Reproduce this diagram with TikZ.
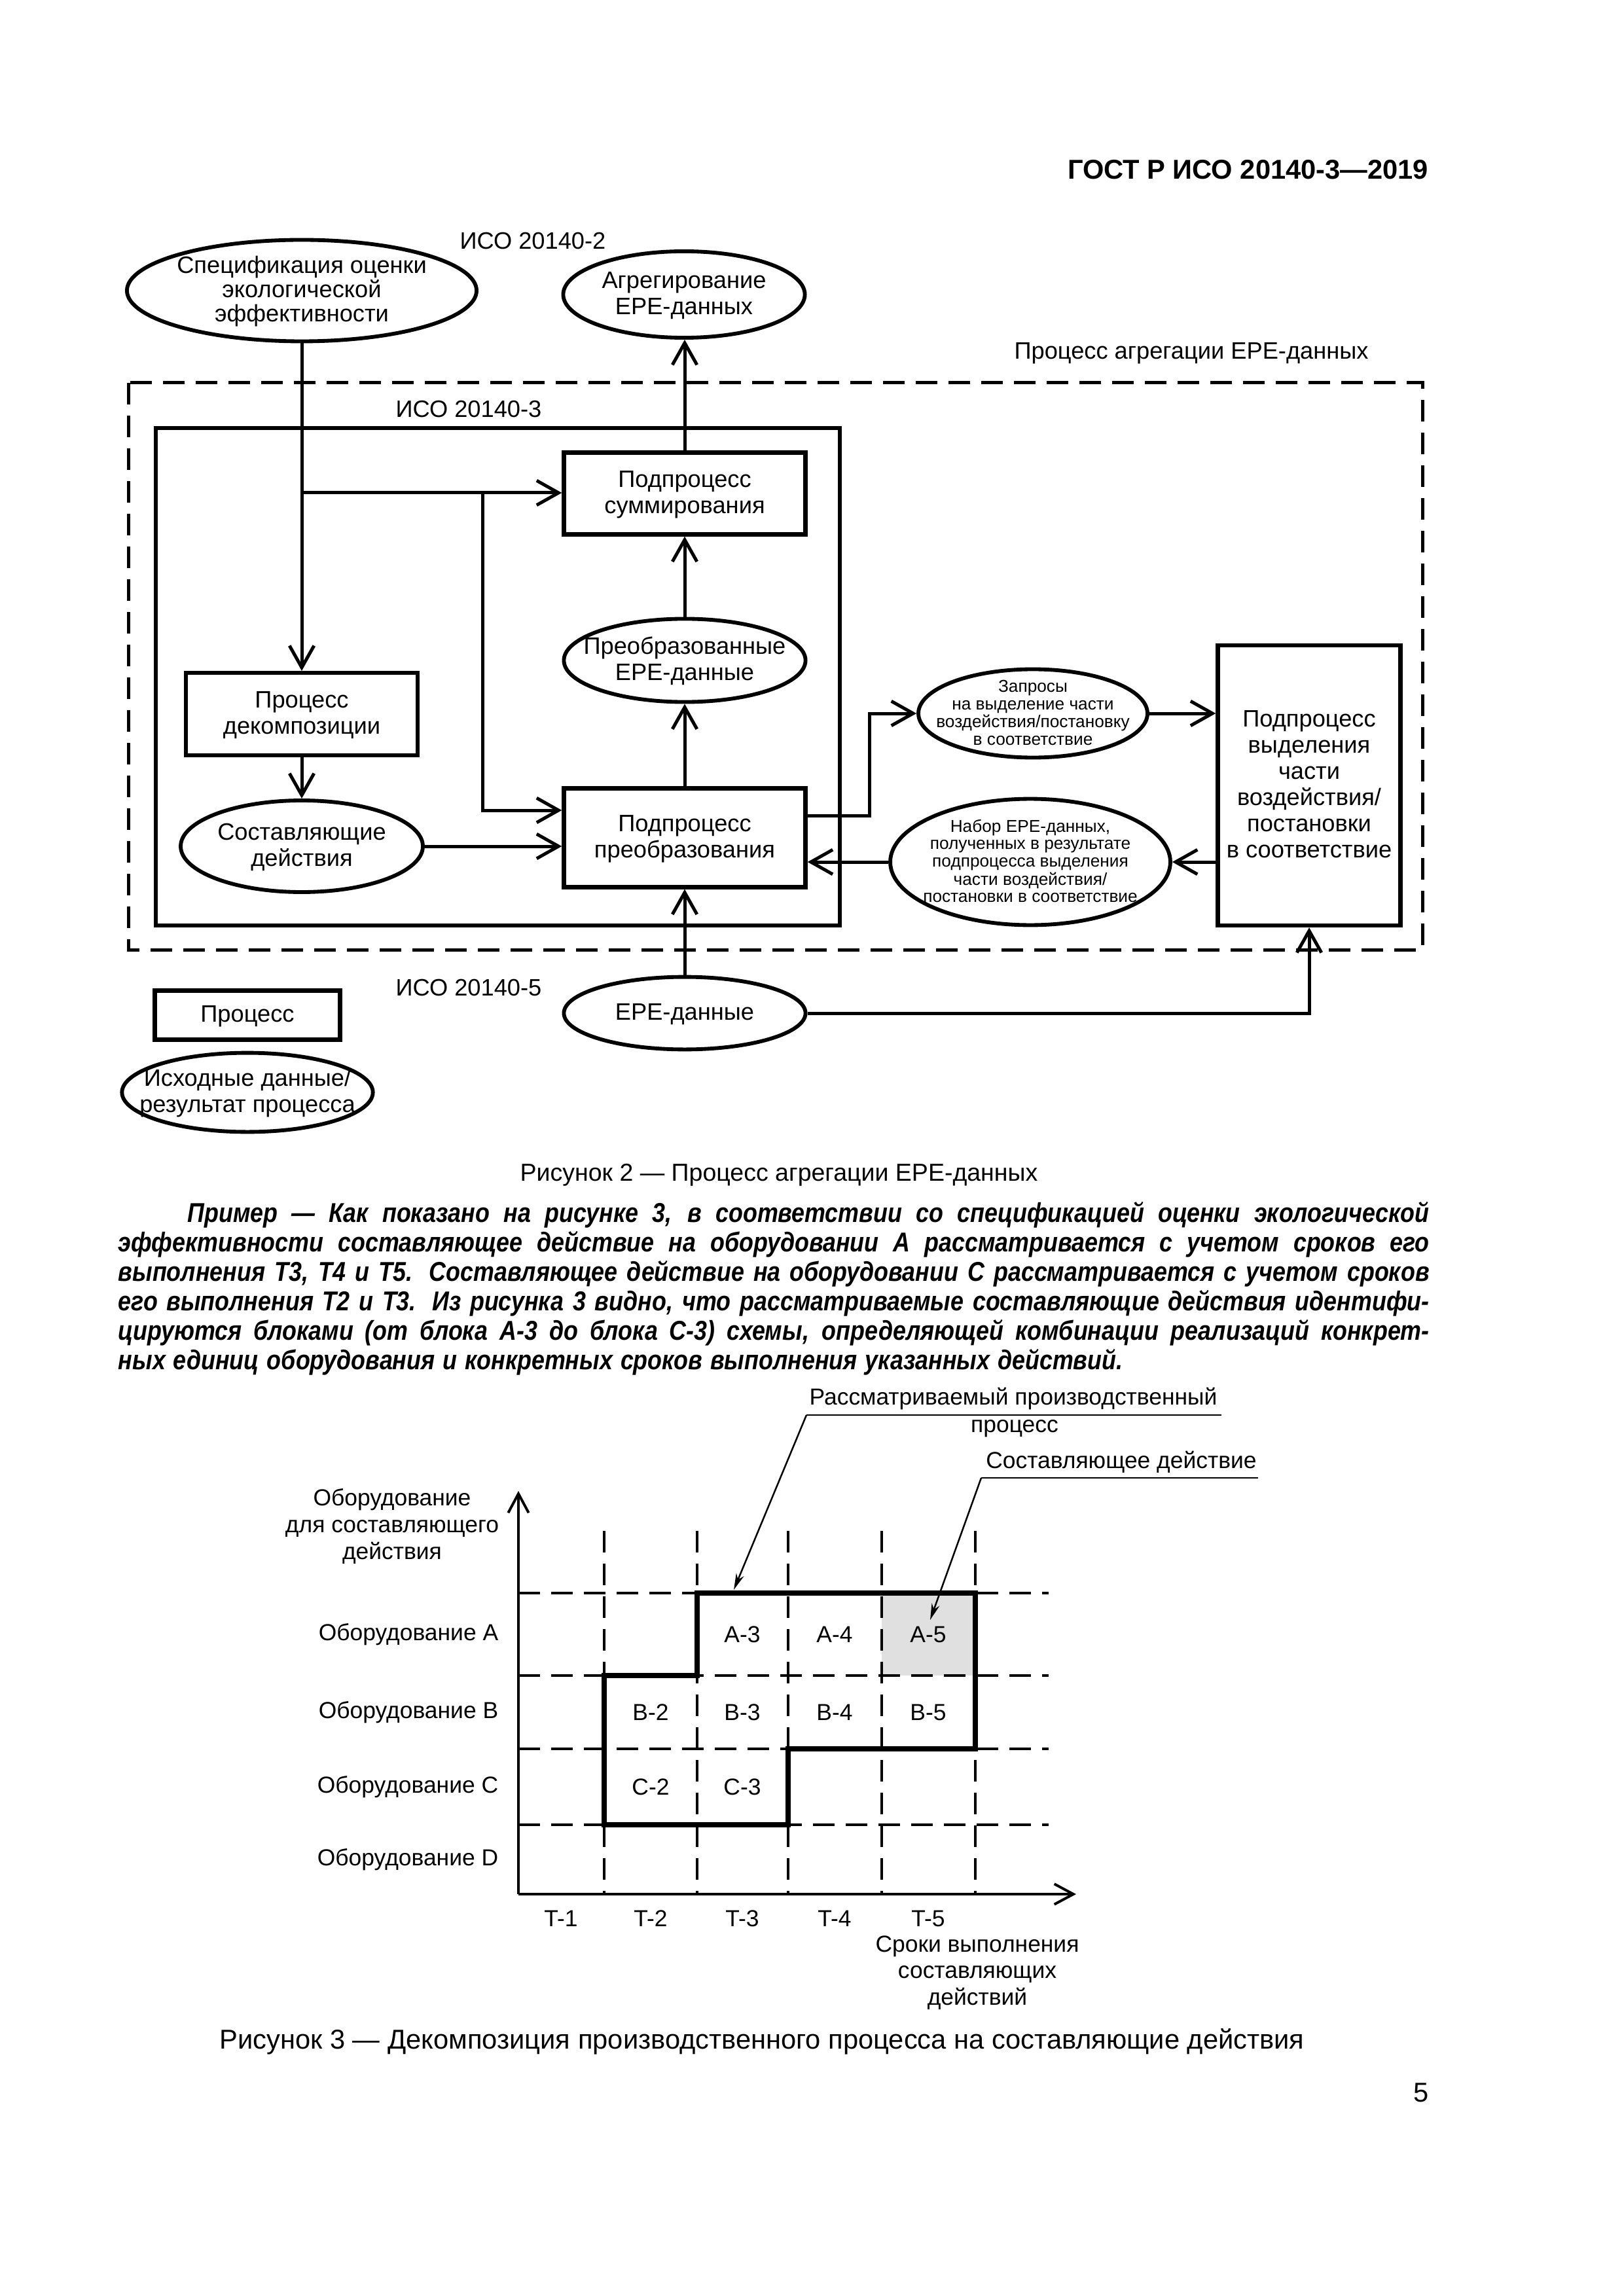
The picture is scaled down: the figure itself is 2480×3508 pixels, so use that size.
\documentclass[tikz,border=0pt]{standalone}
\usepackage{fontspec}
\usepackage{graphicx}
\setmainfont{Liberation Sans}
\usetikzlibrary{arrows.meta,shapes.geometric}
\newcommand{\ct}[1]{\smash{\makebox[0pt]{\raisebox{-0.33em}{\begin{tabular}{@{}c@{}}#1\end{tabular}}}}}
\newcommand{\pline}[1]{\scalebox{0.86}[1]{\spaceskip=0pt\xspaceskip=0pt\makebox[558.95pt][s]{#1}}}
\tikzset{
  f2/.style={font=\fontsize{8.7}{9.6}\selectfont},
  f3/.style={font=\fontsize{8.5}{9.8}\selectfont},
  fsm/.style={font=\fontsize{6.3}{6.4}\selectfont},
  pbox/.style={draw, line width=1.5pt, rectangle, inner sep=0pt, f2},
  pell/.style={draw, line width=1.4pt, ellipse, inner sep=0pt, f2},
  conn/.style={line width=1.2pt, -{Straight Barb[length=8pt,width=9pt]}},
  lab/.style={inner sep=0pt, f2},
  lab3/.style={inner sep=0pt, f3},
  grid3/.style={line width=0.85pt, dash pattern=on 8pt off 4pt},
  axis3/.style={line width=0.95pt},
  outline3/.style={line width=1.9pt, line join=miter},
  leader/.style={line width=0.6pt},
  leaderarrow/.style={line width=0.6pt, -{Stealth[length=6pt,width=3pt]}},
}
\begin{document}
\begin{tikzpicture}[x=0.24pt,y=-0.24pt]
\useasboundingbox (0,0) rectangle (2480,3508);
\fill[white] (0,0) rectangle (2480,3508);

% header
\node[anchor=east, inner sep=0pt, font=\bfseries\fontsize{10}{12}\selectfont] (hdr) at (2183,259) {ГОСТ Р ИСО 20140-3—2019};

% ---------- Figure 2 ----------
\draw[line width=1.2pt, dash pattern=on 8pt off 4pt] (196,585) rectangle (2173,1451);
\draw[line width=1.5pt] (238,654) rectangle (1283,1414);

\node[lab] (iso2) at (814,368) {ИСО 20140-2};
\node[lab] (iso3) at (716,625) {ИСО 20140-3};
\node[lab] (iso5) at (716,1509) {ИСО 20140-5};
\node[lab] (agglab) at (1820,540) {Процесс агрегации EPE-данных};

\node[pell, minimum width=128.2pt, minimum height=37.2pt, font=\fontsize{8.7}{8.6}\selectfont] (spec) at (461,444) {\ct{Спецификация оценки\\экологической\\эффективности}};
\node[pell, minimum width=88.6pt, minimum height=31.7pt] (agreg) at (1045,450) {\ct{Агрегирование\\EPE-данных}};
\node[pbox, minimum width=88.6pt, minimum height=30pt] (summ) at (1046,754) {\ct{Подпроцесс\\суммирования}};
\node[pell, minimum width=88.6pt, minimum height=30.5pt] (preobrEll) at (1046,1009) {\ct{Преобразованные\\EPE-данные}};
\node[pbox, minimum width=85pt, minimum height=30.2pt] (decomp) at (461,1091) {\ct{Процесс\\декомпозиции}};
\node[pell, minimum width=88.8pt, minimum height=33.6pt] (sostav) at (461,1293) {\ct{Составляющие\\действия}};
\node[pbox, minimum width=88.6pt, minimum height=36.2pt] (preobr) at (1046,1280) {\ct{Подпроцесс\\преобразования}};
\node[pell, minimum width=84pt, minimum height=32.4pt, fsm] (zapros) at (1578,1090) {\ct{Запросы\\на выделение части\\воздействия/постановку\\в соответствие}};
\node[pbox, minimum width=67pt, minimum height=102.7pt] (vydel) at (2000,1200) {\ct{Подпроцесс\\выделения\\части\\воздействия/\\постановки\\в соответствие}};
\node[pell, minimum width=102.7pt, minimum height=46.3pt, fsm] (nabor) at (1574,1317) {\ct{Набор EPE-данных,\\полученных в результате\\подпроцесса выделения\\части воздействия/\\постановки в соответствие}};
\node[pell, minimum width=88.6pt, minimum height=26.6pt] (epe) at (1046,1548) {\ct{EPE-данные}};

% legend
\node[pbox, minimum width=67.9pt, minimum height=18pt] (legbox) at (378,1551) {\ct{Процесс}};
\node[pell, minimum width=92pt, minimum height=29pt] (legell) at (378,1669) {\ct{Исходные данные/\\результат процесса}};

% connectors
\coordinate (j1) at (461,753);
\coordinate (j2) at (737,753);
\coordinate (p1) at (737,1238);
\coordinate (q1) at (1328,1246);
\coordinate (q2) at (1328,1090);
\draw[conn] (spec.south) -- (decomp.north);
\draw[conn] (j1) -- (j1 -| summ.west);
\draw[conn] (j2) -- (p1) -- (p1 -| preobr.west);
\draw[conn] (decomp.south) -- (sostav.north);
\draw[conn] (sostav.east) -- (sostav.east -| preobr.west);
\draw[conn] (preobr.north) -- (preobrEll.south);
\draw[conn] (preobrEll.north) -- (summ.south);
\draw[conn] (summ.north) -- (summ.north |- agreg.south);
\draw[conn] (q1 -| preobr.east) -- (q1) -- (q2) -- (zapros.west);
\draw[conn] (zapros.east) -- (zapros.east -| vydel.west);
\draw[conn] (vydel.west |- nabor.east) -- (nabor.east);
\draw[conn] (nabor.west) -- (nabor.west -| preobr.east);
\draw[conn] (epe.north) -- (epe.north |- preobr.south);
\draw[conn] (epe.east) -- (epe.east -| vydel.south) -- (vydel.south);

\node[inner sep=0pt, font=\fontsize{9}{11}\selectfont] (cap2) at (1190,1795) {Рисунок 2 — Процесс агрегации EPE-данных};

% ---------- paragraph ----------
\node[anchor=base west, inner sep=0pt, text width=480.7pt, align=left,
      font=\bfseries\itshape\fontsize{10}{10.8}\selectfont] (para) at (180,1867)
{\pline{\hspace*{29.5pt}Пример — Как показано на рисунке 3, в соответствии со спецификацией оценки экологической}\\
\pline{эффективности составляющее действие на оборудовании А рассматривается с учетом сроков его}\\
\pline{выполнения Т3, Т4 и Т5. Составляющее действие на оборудовании С рассматривается с учетом сроков}\\
\pline{его выполнения Т2 и Т3. Из рисунка 3 видно, что рассматриваемые составляющие действия идентифи-}\\
\pline{цируются блоками (от блока А-3 до блока С-3) схемы, определяющей комбинации реализаций конкрет-}\\
\scalebox{0.86}[1]{ных единиц оборудования и конкретных сроков выполнения указанных действий.}};

% ---------- Figure 3 ----------
\fill[black!12] (1347,2434) rectangle (1490,2560);
\foreach \xx in {923,1065,1204,1347,1490} \draw[grid3] (\xx,2339) -- (\xx,2894);
\foreach \yy in {2434,2560,2672,2788} \draw[grid3] (792,\yy) -- (1602,\yy);
\coordinate (O) at (792,2894);
\coordinate (xend) at (1644,2894);
\coordinate (yend) at (792,2278);
\draw[axis3, -{Straight Barb[length=7pt,width=7.5pt]}] (O) -- (xend);
\draw[axis3, -{Straight Barb[length=7pt,width=7.5pt]}] (O) -- (yend);
\draw[outline3] (1065,2434) -- (1490,2434) -- (1490,2672) -- (1204,2672) -- (1204,2788) -- (923,2788) -- (923,2560) -- (1065,2560) -- cycle;

\node[lab3, align=center] (ylab) at (599,2332) {Оборудование\\для составляющего\\действия};
\node[lab3, anchor=east] (rA) at (762,2497) {Оборудование A};
\node[lab3, anchor=east] (rB) at (762,2616) {Оборудование B};
\node[lab3, anchor=east] (rC) at (762,2730) {Оборудование C};
\node[lab3, anchor=east] (rD) at (762,2841) {Оборудование D};

\node[lab3] (a3) at (1134,2497) {A-3};
\node[lab3] (a4) at (1275,2497) {A-4};
\node[lab3] (a5) at (1418,2497) {A-5};
\node[lab3] (b2) at (994,2616) {B-2};
\node[lab3] (b3) at (1134,2616) {B-3};
\node[lab3] (b4) at (1275,2616) {B-4};
\node[lab3] (b5) at (1418,2616) {B-5};
\node[lab3] (c2) at (994,2730) {C-2};
\node[lab3] (c3) at (1134,2730) {C-3};

\node[lab3] (t1) at (857,2931) {T-1};
\node[lab3] (t2) at (994,2931) {T-2};
\node[lab3] (t3) at (1134,2931) {T-3};
\node[lab3] (t4) at (1275,2931) {T-4};
\node[lab3] (t5) at (1418,2931) {T-5};
\node[lab3, align=center] (xlab) at (1493,3014) {Сроки выполнения\\составляющих\\действий};

\node[lab3] (c1t) at (1548,2137) {Рассматриваемый производственный};
\node[lab3] (c1t2) at (1550,2183) {процесс};
\coordinate (c1a) at (1866,2162);
\coordinate (c1s) at (1232,2162);
\coordinate (c1e) at (1121,2429);
\draw[leader] (c1a) -- (c1s);
\draw[leaderarrow] (c1s) -- (c1e);

\node[lab3] (c2t) at (1713,2234) {Составляющее действие};
\coordinate (c2a) at (1922,2258);
\coordinate (c2s) at (1499,2258);
\coordinate (c2e) at (1421,2475);
\draw[leader] (c2a) -- (c2s);
\draw[leaderarrow] (c2s) -- (c2e);

\node[inner sep=0pt, font=\fontsize{10}{12}\selectfont] (cap3) at (1164,3119) {Рисунок 3 — Декомпозиция производственного процесса на составляющие действия};
\node[anchor=east, inner sep=0pt, font=\fontsize{10}{12}\selectfont] (pgno) at (2183,3197) {5};
\end{tikzpicture}
\end{document}
